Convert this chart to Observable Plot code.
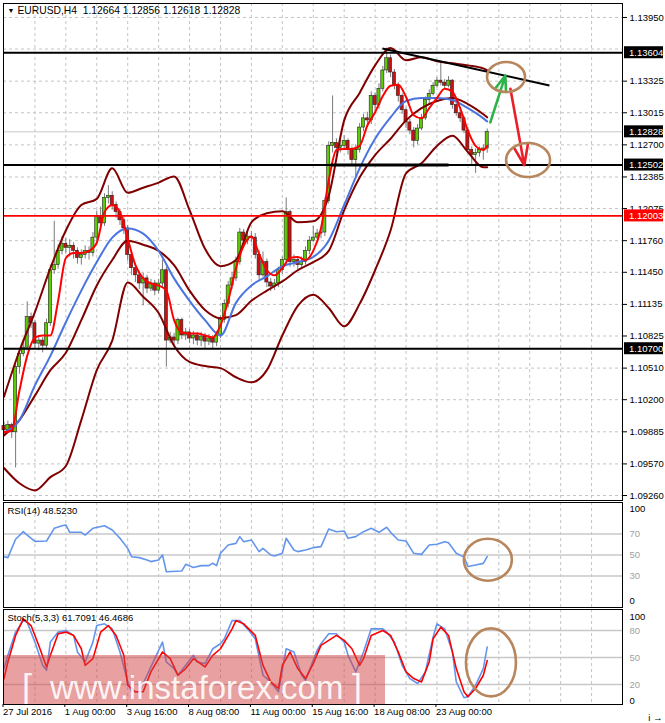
<!DOCTYPE html>
<html><head><meta charset="utf-8">
<script src="https://cdn.jsdelivr.net/npm/d3@7"></script>
<script src="https://cdn.jsdelivr.net/npm/@observablehq/plot@0.6"></script>
<style>
body{margin:0;background:#fff;}
#wrap{position:relative;width:665px;height:723px;overflow:hidden;background:#fff;}
#wrap .panel{position:absolute;left:0;}
</style></head><body><div id="wrap"></div><script>
// ---------------- data ----------------
const firstOpen = 1.0994;
const closes = [
1.0990,1.0995,1.0988,1.1052,1.1065,1.1071,1.1101,1.1095,1.1075,1.1078,
1.1073,1.1095,1.1147,1.1152,1.1166,1.1173,1.1169,1.1171,1.1166,1.1159,
1.1162,1.1166,1.1164,1.1179,1.1199,1.1193,1.1218,1.1220,1.1211,1.1204,
1.1196,1.1188,1.1162,1.1149,1.1142,1.1134,1.1139,1.1129,1.1134,1.1127,
1.1134,1.1147,1.1078,1.1081,1.1078,1.1098,1.1083,1.1086,1.1080,1.1083,
1.1078,1.1082,1.1077,1.1080,1.1076,1.1083,1.1098,1.1114,1.1132,1.1139,
1.1155,1.1184,1.1176,1.1180,1.1179,1.1162,1.1142,1.1155,1.1135,1.1131,
1.1134,1.1147,1.1157,1.1204,1.1155,1.1157,1.1152,1.1155,1.1166,1.1176,
1.1179,1.1183,1.1184,1.1215,1.1269,1.1272,1.1267,1.1269,1.1274,1.1265,
1.1255,1.1265,1.1287,1.1296,1.1294,1.1318,1.1309,1.1325,1.1343,1.1355,
1.1341,1.1328,1.1318,1.1304,1.1292,1.1284,1.1274,1.1286,1.1296,1.1314,
1.1320,1.1328,1.1333,1.1331,1.1328,1.1333,1.1309,1.1301,1.1296,1.1284,
1.1265,1.1260,1.1262,1.1265,1.12664,1.12828];
const highs = [
1.0998,1.0999,1.0997,1.1055,1.1069,1.1078,1.1116,1.1105,1.1098,1.1083,
1.1081,1.1099,1.1152,1.1195,1.1172,1.1180,1.1178,1.1177,1.1174,1.1169,
1.1167,1.1171,1.1170,1.1184,1.1205,1.1209,1.1222,1.1230,1.1224,1.1214,
1.1207,1.1199,1.1191,1.1166,1.1153,1.1146,1.1144,1.1142,1.1138,1.1137,
1.1138,1.1157,1.1150,1.1086,1.1085,1.1100,1.1100,1.1090,1.1089,1.1087,
1.1086,1.1086,1.1085,1.1084,1.1083,1.1087,1.1102,1.1118,1.1136,1.1145,
1.1160,1.1188,1.1187,1.1185,1.1185,1.1183,1.1166,1.1165,1.1158,1.1139,
1.1138,1.1150,1.1160,1.1218,1.1206,1.1162,1.1160,1.1160,1.1170,1.1180,
1.1190,1.1187,1.1188,1.1218,1.1273,1.1318,1.1276,1.1274,1.1279,1.1276,
1.1268,1.1270,1.1291,1.1300,1.1302,1.1322,1.1321,1.1330,1.1347,1.1365,
1.1358,1.1344,1.1331,1.1320,1.1306,1.1295,1.1287,1.1290,1.1300,1.1317,
1.1324,1.1331,1.1336,1.1350,1.1334,1.1337,1.1334,1.1312,1.1304,1.1298,
1.1287,1.1268,1.1266,1.1268,1.1270,1.12856];
const lows = [
1.0984,1.0987,1.0982,1.0953,1.1045,1.1062,1.1068,1.1090,1.1070,1.1068,
1.1066,1.1070,1.1092,1.1143,1.1148,1.1162,1.1163,1.1160,1.1158,1.1153,
1.1152,1.1158,1.1157,1.1160,1.1175,1.1189,1.1190,1.1212,1.1206,1.1198,
1.1191,1.1182,1.1156,1.1142,1.1135,1.1128,1.1112,1.1124,1.1126,1.1122,
1.1124,1.1130,1.1052,1.1075,1.1072,1.1074,1.1079,1.1078,1.1075,1.1074,
1.1073,1.1072,1.1070,1.1073,1.1070,1.1072,1.1080,1.1095,1.1110,1.1128,
1.1136,1.1152,1.1170,1.1172,1.1174,1.1158,1.1137,1.1140,1.1130,1.1126,
1.1127,1.1130,1.1143,1.1152,1.1150,1.1150,1.1147,1.1148,1.1152,1.1162,
1.1174,1.1177,1.1178,1.1180,1.1212,1.1262,1.1262,1.1262,1.1265,1.1260,
1.1250,1.1238,1.1262,1.1283,1.1288,1.1290,1.1303,1.1305,1.1322,1.1340,
1.1336,1.1324,1.1312,1.1300,1.1286,1.1280,1.1267,1.1270,1.1284,1.1294,
1.1310,1.1318,1.1326,1.1328,1.1325,1.1326,1.1305,1.1298,1.1292,1.1281,
1.1262,1.1250,1.1242,1.1258,1.1255,1.12618];

// indicator lines sampled every 4 bars (0..124) + last bar 125
const bandIdx = d3.range(0, 125, 4).concat([125]);
const bbUpper = [1.1023,1.1068,1.1106,1.1149,1.1186,1.1211,1.1217,1.1247,1.1223,1.1228,1.1233,1.1239,1.1206,1.1168,1.1151,1.1157,1.1194,1.1203,1.1205,1.1194,1.1195,1.1220,1.1294,1.1321,1.1348,1.1365,1.1353,1.1356,1.1352,1.1350,1.1348,1.1345,1.1343];
const bbMid = [1.0985,1.1000,1.1024,1.1049,1.1066,1.1098,1.1132,1.1157,1.1176,1.1172,1.1166,1.1152,1.1127,1.1108,1.1100,1.1103,1.1117,1.1127,1.1136,1.1147,1.1155,1.1166,1.1206,1.1238,1.1260,1.1276,1.1294,1.1306,1.1313,1.1316,1.1310,1.1300,1.1297];
const bbLower = [1.0953,1.0938,1.0931,1.0944,1.0955,1.1000,1.1049,1.1078,1.1135,1.1121,1.1105,1.1073,1.1057,1.1053,1.1051,1.1042,1.1037,1.1049,1.1083,1.1112,1.1123,1.1110,1.1092,1.1114,1.1147,1.1186,1.1242,1.1252,1.1269,1.1279,1.1263,1.1248,1.1248];
const maBlue = [1.0988,1.1000,1.1034,1.1063,1.1096,1.1127,1.1155,1.1179,1.1188,1.1183,1.1166,1.1139,1.1117,1.1098,1.1083,1.1115,1.1132,1.1141,1.1151,1.1155,1.1160,1.1176,1.1211,1.1247,1.1276,1.1297,1.1313,1.1316,1.1316,1.1314,1.1306,1.1296,1.1293];
// fast MA sampled every 2 bars + last bar
const redIdx = d3.range(0, 125, 2).concat([125]);
const maRed = [1.0988,1.0990,1.1029,1.1063,1.1081,1.1083,1.1083,1.1117,1.1159,1.1164,1.1164,1.1166,1.1174,1.1204,1.1211,1.1204,1.1178,1.1152,1.1139,1.1134,1.1132,1.1127,1.1098,1.1086,1.1085,1.1085,1.1083,1.1081,1.1093,1.1117,1.1149,1.1171,1.1180,1.1163,1.1147,1.1142,1.1149,1.1159,1.1160,1.1157,1.1166,1.1188,1.1235,1.1265,1.1266,1.1266,1.1269,1.1289,1.1302,1.1318,1.1328,1.1329,1.1317,1.1299,1.1296,1.1306,1.1316,1.1325,1.1322,1.1306,1.1284,1.1269,1.1265,1.1269];

const rsiIdx = [0,1,3,5,6,8,11,13,15,16,17,20,21,22,23,26,28,30,32,33,35,37,38,40,41,42,46,47,49,51,53,54,55,56,58,60,61,62,64,66,67,69,70,72,73,75,76,78,80,82,84,86,88,89,91,93,95,97,99,100,102,104,106,108,110,112,114,115,117,119,120,122,124,125];
const rsiVal = [48.4,47.5,65,72.2,69,63,63.3,75.4,77.9,78.6,71.6,71.6,69,72.2,75.4,77.9,73.8,65.9,56.3,48.4,47.5,45.2,43.7,45.2,50,34.1,34.8,41.1,38,39.9,39.9,42.1,39.9,51.6,59.5,61.1,67.5,62.7,64.3,53.2,56.3,50,49,51.6,65.9,54.8,53.2,54.8,57,58,74.8,72.2,72.9,65.9,67.5,72.2,75.4,71.6,76.4,71.6,64.3,63.3,51.6,50.6,59.5,60.2,62.7,61.7,51.6,48,39,40.5,42,48.5];

const stochIdx = [0,1,3,5,6,8,10,11,12,14,16,18,19,21,23,24,26,28,30,32,33,35,37,39,41,42,44,45,47,49,50,52,54,56,57,59,61,63,65,67,69,71,73,75,77,78,81,82,84,86,88,89,91,93,95,98,99,101,103,105,107,109,111,112,114,116,117,119,120,122,124,125];
const stochMain = [37.7,52.4,78.2,91,89.2,67.1,41.3,35.8,67.1,78.2,80,74.5,56.1,45,67.1,85.5,87.4,81.8,56.1,22.9,11.9,11.9,30.3,48.7,67.1,45,37.7,30.3,41.3,52.4,45,43.2,59.7,65.3,70.8,91,91,81.8,70.8,30.3,22.9,11.9,59.7,56.1,30.3,24.8,57.9,65.3,76.3,76.3,67.1,52.4,34,56.1,81.8,81.8,78.2,67.1,41.3,26.6,21.1,34,72.6,87.4,81.8,56.1,22.9,5.3,6.4,19.3,37.7,61.7];
const signalIdx = [0,1,3,5,7,9,11,12,14,16,18,20,21,23,25,27,29,31,32,34,36,38,41,43,45,47,49,52,54,56,59,60,62,65,67,69,71,72,74,76,78,80,82,86,88,90,92,93,95,98,100,102,104,106,108,110,111,113,115,117,119,120,122,124,125];
const stochSignal = [26.6,45,74.5,92.9,85.5,63.4,39.5,52.4,76.3,78.2,74.5,59.7,41.3,48.7,78.2,85.5,74.5,52.4,19.3,11.9,11.9,34,56.1,48.7,30.3,37.7,48.7,39.5,52.4,59.7,81.8,91,87.4,74.5,41.3,22.9,15.6,41.3,56.1,37.7,26.6,43.2,63.4,74.5,69,59.7,41.3,48.7,74.5,80,74.5,56.1,34,26.6,22.9,45,70.8,83.7,74.5,37.7,11.9,6.4,15.6,30.3,46.5];

const gridPrices = [1.1395,1.1364,1.13325,1.13015,1.127,1.12385,1.12075,1.1176,1.1145,1.11135,1.10825,1.1051,1.102,1.09885,1.0957,1.0926];
const axisPrices = [1.1395,1.13325,1.13015,1.127,1.12385,1.12075,1.1176,1.1145,1.11135,1.10825,1.1051,1.102,1.09885,1.0957,1.0926];
const blackLevels = [1.13604, 1.12502, 1.10700];
const redLevel = 1.12003;
const bidPrice = 1.12828;
const boxLevels = [1.13604, 1.12828, 1.12502, 1.12003, 1.10700];
const boxColors = ["#000", "#000", "#000", "#ff0000", "#000"];
const dateBars = [0,16,32,48,64,80,96,112];
const dateLabels = ["27 Jul 2016","1 Aug 00:00","3 Aug 16:00","8 Aug 08:00","11 Aug 00:00","15 Aug 16:00","18 Aug 08:00","23 Aug 00:00"];
const headerMain = "EURUSD,H4  1.12664 1.12856 1.12618 1.12828";
const headerRsi = "RSI(14) 48.5230";
const headerStoch = "Stoch(5,3,3) 61.7091 46.4686";
const watermarkText = ["[", "www.instaforex.com", "]"];
// drawn objects
const trendLine = [{x1: 97.9, y1: 1.13646, x2: 141.1, y2: 1.13283}];
const supportSeg = [{x1: 84.5, y1: 1.12502, x2: 115, y2: 1.12502}];
const greenArrow = [{x1: 125.8, y1: 1.1292, x2: 129.7, y2: 1.1338}];
const redArrow = [{x1: 131.0, y1: 1.1325, x2: 134.6, y2: 1.1250}];
const mainEllipses = [{i: 130.0, v: 1.13361, rx: 19, ry: 15}, {i: 135.7, v: 1.12547, rx: 22, ry: 17}];
const rsiEllipses = [{i: 125.3, v: 45, rx: 24, ry: 21}];
const stochEllipses = [{i: 126.1, v: 44, rx: 25, ry: 34}];

// ---------------- build ----------------
const W = 665;
const xDomain = [-0.13, 160];
const FONT = '"Liberation Sans", Arial, sans-serif';
const style = {background: "transparent", overflow: "visible", fontFamily: FONT, fontSize: "9.5px", color: "#000"};
const gridBars = d3.range(8, 161, 8);
const bars = closes.map((c, i) => ({i, o: i === 0 ? firstOpen : closes[i - 1], c, h: highs[i], l: lows[i]}));
const bandRows = bandIdx.map((i, k) => ({i, upper: bbUpper[k], mid: bbMid[k], lower: bbLower[k], blue: maBlue[k]}));
const redRows = redIdx.map((i, k) => ({i, v: maRed[k]}));
const rsiRows = rsiIdx.map((i, k) => ({i, v: rsiVal[k]}));
const mainRows = stochIdx.map((i, k) => ({i, v: stochMain[k]}));
const sigRows = signalIdx.map((i, k) => ({i, v: stochSignal[k]}));
const dateMap = new Map(dateBars.map((b, k) => [b, dateLabels[k]]));

function ellipseMark(list) {
  return (index, scales) => {
    const g = d3.create("svg:g");
    for (const e of list) {
      g.append("ellipse").attr("cx", scales.x(e.i)).attr("cy", scales.y(e.v))
        .attr("rx", e.rx).attr("ry", e.ry).attr("fill", "none")
        .attr("stroke", "#b8865c").attr("stroke-width", 2.6);
    }
    return g.node();
  };
}
function boxMark(index, scales, values, dims) {
  const g = d3.create("svg:g").attr("font-family", FONT).attr("font-size", 9.5).attr("text-anchor", "start");
  const x0 = dims.width - dims.marginRight + 2;
  boxLevels.forEach((p, k) => {
    const y = scales.y(p);
    g.append("rect").attr("x", x0).attr("y", y - 6).attr("width", 39).attr("height", 12).attr("fill", boxColors[k]);
    g.append("text").attr("x", x0 + 5).attr("y", y).attr("dy", "0.35em").attr("fill", "#fff").text(d3.format(".5f")(p));
  });
  return g.node();
}
function gridX() { return Plot.ruleX(gridBars, {stroke: "#c4c4c4", strokeDasharray: "3,3"}); }

const wrap = document.getElementById("wrap");
function place(svg, top) {
  const d = document.createElement("div");
  d.className = "panel"; d.style.top = top + "px";
  d.appendChild(svg); wrap.appendChild(d);
}

const mainChart = Plot.plot({
  width: W, height: 502, marginLeft: 3, marginRight: 43, marginTop: 3, marginBottom: 2,
  x: {domain: xDomain, axis: null},
  y: {domain: [1.09211, 1.14087], axis: null},
  style,
  marks: [
    Plot.ruleY(gridPrices, {stroke: "#c4c4c4", strokeDasharray: "3,3"}),
    gridX(),
    Plot.ruleY([bidPrice], {stroke: "#c8c8c8"}),
    Plot.ruleX(bars, {x: "i", y1: "l", y2: "h", stroke: "#7a7a7a", strokeWidth: 1}),
    Plot.rect(bars, {x1: d => d.i - 0.4, x2: d => d.i + 0.4, y1: "o", y2: "c",
      fill: d => d.c >= d.o ? "#5ccc00" : "#cc1010", stroke: "#222", strokeWidth: 0.6}),
    Plot.line(bandRows, {x: "i", y: "upper", stroke: "#800000", strokeWidth: 2, curve: "monotone-x"}),
    Plot.line(bandRows, {x: "i", y: "mid", stroke: "#800000", strokeWidth: 2, curve: "monotone-x"}),
    Plot.line(bandRows, {x: "i", y: "lower", stroke: "#800000", strokeWidth: 2, curve: "monotone-x"}),
    Plot.line(bandRows, {x: "i", y: "blue", stroke: "#4a74e0", strokeWidth: 2, curve: "monotone-x"}),
    Plot.line(redRows, {x: "i", y: "v", stroke: "#ff0000", strokeWidth: 2, curve: "monotone-x"}),
    Plot.ruleY(blackLevels, {stroke: "#000", strokeWidth: 2}),
    Plot.ruleY([redLevel], {stroke: "#ff0000", strokeWidth: 1.6}),
    Plot.link(supportSeg, {x1: "x1", y1: "y1", x2: "x2", y2: "y2", stroke: "#000", strokeWidth: 3}),
    Plot.link(trendLine, {x1: "x1", y1: "y1", x2: "x2", y2: "y2", stroke: "#000", strokeWidth: 2}),
    Plot.arrow(greenArrow, {x1: "x1", y1: "y1", x2: "x2", y2: "y2", stroke: "#2fb24a", strokeWidth: 2.6, headLength: 12, headAngle: 40}),
    Plot.arrow(redArrow, {x1: "x1", y1: "y1", x2: "x2", y2: "y2", stroke: "#e8202a", strokeWidth: 2.6, headLength: 12, headAngle: 40}),
    ellipseMark(mainEllipses),
    Plot.axisY(axisPrices, {anchor: "right", tickSize: 4, tickPadding: 3, tickFormat: d3.format(".5f")}),
    boxMark,
    Plot.text(["▼"], {frameAnchor: "top-left", dx: 4, dy: 7, lineAnchor: "middle", fontSize: 7}),
    Plot.text([headerMain], {frameAnchor: "top-left", dx: 14, dy: 7, lineAnchor: "middle", fontSize: 10.3}),
    Plot.frame({stroke: "#000"})
  ]
});
place(mainChart, 0);

const rsiChart = Plot.plot({
  width: W, height: 109, marginLeft: 3, marginRight: 43, marginTop: 2, marginBottom: 2,
  x: {domain: xDomain, axis: null},
  y: {domain: [0, 100], axis: null},
  style,
  marks: [
    gridX(),
    Plot.ruleY([70, 50, 30], {stroke: "#c8c8c8", strokeWidth: 1.3}),
    Plot.line(rsiRows, {x: "i", y: "v", stroke: "#6495ed", strokeWidth: 1.6}),
    ellipseMark(rsiEllipses),
    Plot.text([70, 50, 30], {y: d => d, text: d => String(d), frameAnchor: "right", dx: 7, textAnchor: "start", fill: "#a0a0a0", fontSize: 9.5}),
    Plot.text(["100"], {frameAnchor: "top-right", dx: 7, dy: 6, textAnchor: "start", lineAnchor: "middle", fontSize: 9.5}),
    Plot.text(["0"], {frameAnchor: "bottom-right", dx: 7, dy: -7, textAnchor: "start", lineAnchor: "middle", fontSize: 9.5}),
    Plot.text([headerRsi], {frameAnchor: "top-left", dx: 4, dy: 8, lineAnchor: "middle", fontSize: 9.5}),
    Plot.frame({stroke: "#000"})
  ]
});
place(rsiChart, 500);

function watermark() {
  const g = d3.create("svg:g").attr("text-anchor", "start").attr("font-family", FONT);
  g.append("rect").attr("x", 3).attr("y", 48).attr("width", 382).attr("height", 49)
    .attr("fill", "rgba(209,65,65,0.5)");
  g.append("text").attr("x", 22).attr("y", 93).attr("font-size", 36)
    .attr("fill", "rgba(255,255,255,0.9)").text(watermarkText[0]);
  g.append("text").attr("x", 50).attr("y", 92).attr("font-size", 33)
    .attr("fill", "rgba(255,255,255,0.9)").text(watermarkText[1]);
  g.append("text").attr("x", 352).attr("y", 93).attr("font-size", 36)
    .attr("fill", "rgba(255,255,255,0.9)").text(watermarkText[2]);
  return g.node();
}

const stochChart = Plot.plot({
  width: W, height: 116, marginLeft: 3, marginRight: 43, marginTop: 2, marginBottom: 19,
  x: {domain: xDomain, axis: null},
  y: {domain: [-2.2, 103.3], axis: null},
  style,
  marks: [
    gridX(),
    Plot.ruleY([80, 50, 20], {stroke: "#c8c8c8", strokeWidth: 1.3}),
    Plot.line(mainRows, {x: "i", y: "v", stroke: "#6495ed", strokeWidth: 1.6}),
    Plot.line(sigRows, {x: "i", y: "v", stroke: "#ff0000", strokeWidth: 1.6}),
    ellipseMark(stochEllipses),
    watermark,
    Plot.text([80, 50, 20], {y: d => d, text: d => String(d), frameAnchor: "right", dx: 7, textAnchor: "start", fill: "#a0a0a0", fontSize: 9.5}),
    Plot.text(["100"], {frameAnchor: "top-right", dx: 7, dy: 7, textAnchor: "start", lineAnchor: "middle", fontSize: 9.5}),
    Plot.text(["0"], {frameAnchor: "bottom-right", dx: 7, dy: -4, textAnchor: "start", lineAnchor: "middle", fontSize: 9.5}),
    Plot.text([headerStoch], {frameAnchor: "top-left", dx: 4, dy: 8, lineAnchor: "middle", fontSize: 9.5}),
    Plot.axisX(dateBars, {anchor: "bottom", tickSize: 3, tickPadding: 1, tickFormat: d => dateMap.get(d), textAnchor: "start", dx: -1, fontSize: 9.5}),
    Plot.frame({stroke: "#000"})
  ]
});
place(stochChart, 607);
</script></body></html>
